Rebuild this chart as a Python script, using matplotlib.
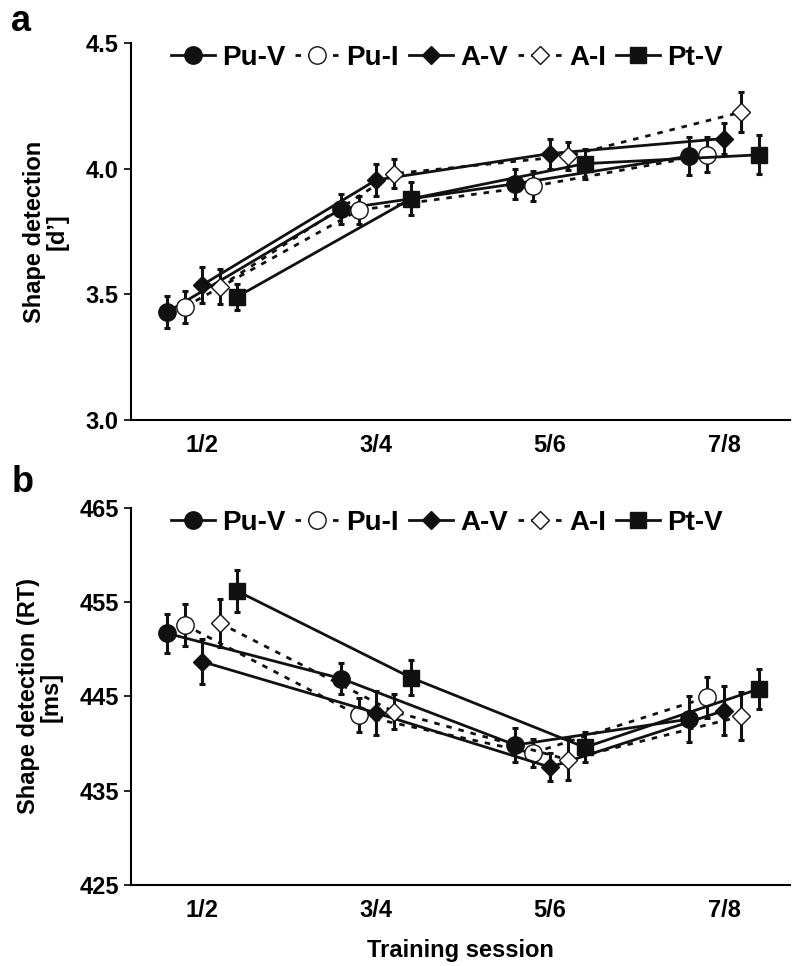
import matplotlib
matplotlib.use("Agg")
import matplotlib.pyplot as plt
import numpy as np

sessions = ["1/2", "3/4", "5/6", "7/8"]
series = ["Pu-V", "Pu-I", "A-V", "A-I", "Pt-V"]

# Panel a: shape detection d'
dprime_mean = {
    "Pu-V": [3.43, 3.84, 3.94, 4.05],
    "Pu-I": [3.45, 3.835, 3.93, 4.055],
    "A-V":  [3.537, 3.955, 4.06, 4.12],
    "A-I":  [3.53, 3.98, 4.05, 4.225],
    "Pt-V": [3.49, 3.88, 4.02, 4.055],
}
dprime_err = {
    "Pu-V": [0.065, 0.06, 0.06, 0.075],
    "Pu-I": [0.065, 0.056, 0.06, 0.07],
    "A-V":  [0.07, 0.064, 0.06, 0.06],
    "A-I":  [0.07, 0.058, 0.055, 0.08],
    "Pt-V": [0.053, 0.066, 0.06, 0.078],
}

# Panel b: shape detection RT (ms)
rt_mean = {
    "Pu-V": [451.7, 446.9, 439.85, 442.6],
    "Pu-I": [452.6, 443.0, 439.0, 444.9],
    "A-V":  [448.7, 443.25, 437.5, 443.5],
    "A-I":  [452.8, 443.4, 438.3, 442.9],
    "Pt-V": [456.2, 447.0, 439.6, 445.8],
}
rt_err = {
    "Pu-V": [2.1, 1.65, 1.77, 2.4],
    "Pu-I": [2.2, 1.8, 1.5, 2.15],
    "A-V":  [2.35, 2.3, 1.45, 2.6],
    "A-I":  [2.5, 1.85, 2.2, 2.55],
    "Pt-V": [2.2, 1.85, 1.6, 2.15],
}

styles = {
    "Pu-V": dict(marker="o", mfc="#111111", ls="-", ms=12.5),
    "Pu-I": dict(marker="o", mfc="white", ls=(0, (2, 2.5)), ms=12.5),
    "A-V":  dict(marker="D", mfc="#111111", ls="-", ms=9.5),
    "A-I":  dict(marker="D", mfc="white", ls=(0, (2, 2.5)), ms=9.5),
    "Pt-V": dict(marker="s", mfc="#111111", ls="-", ms=11),
}
offsets = {"Pu-V": -0.2, "Pu-I": -0.1, "A-V": 0.0, "A-I": 0.1, "Pt-V": 0.2}

FONT = ["Liberation Sans Narrow", "Liberation Sans", "DejaVu Sans"]
plt.rcParams["font.family"] = FONT
plt.rcParams["font.weight"] = "bold"
plt.rcParams["axes.labelweight"] = "bold"

fig = plt.figure(figsize=(8.0, 9.66), dpi=100)
ax_a = fig.add_axes([0.164, 0.5652, 0.8235, 0.3903])
ax_b = fig.add_axes([0.164, 0.0839, 0.8235, 0.3902])

x = np.arange(len(sessions))
col = "#111111"

def draw(ax, means, errs):
    for name in series:
        st = styles[name]
        xs = x + offsets[name]
        ax.errorbar(xs, means[name], yerr=errs[name], fmt="none", ecolor=col,
                    elinewidth=2.2, capsize=2.5, capthick=2.2, zorder=2)
        ax.plot(xs, means[name], color=col, lw=2.0, ls=st["ls"], marker=st["marker"],
                ms=st["ms"], mfc=st["mfc"], mec=col, mew=1.0, label=name, zorder=3)
    ax.set_xlim(-0.408, 3.379)
    ax.set_xticks(x)
    ax.set_xticklabels(sessions)
    ax.tick_params(axis="x", length=0, pad=10, labelsize=17)
    ax.tick_params(axis="y", length=5, width=1.2, pad=4, labelsize=17, direction="out")
    for s in ["top", "right"]:
        ax.spines[s].set_visible(False)
    for s in ["left", "bottom"]:
        ax.spines[s].set_linewidth(1.5)
    for lab in ax.get_xticklabels() + ax.get_yticklabels():
        lab.set_fontweight("bold")
    leg = ax.legend(loc="center left", bbox_to_anchor=(0.06, 0.96), ncol=5, frameon=False,
                    fontsize=20, handlelength=1.6, handletextpad=0.25, columnspacing=0.35,
                    borderaxespad=0, borderpad=0)
    for t in leg.get_texts():
        t.set_fontweight("bold")

draw(ax_a, dprime_mean, dprime_err)
ax_a.set_ylim(3.0, 4.5)
ax_a.set_yticks([3.0, 3.5, 4.0, 4.5])
ax_a.set_yticklabels(["3.0", "3.5", "4.0", "4.5"])
ax_a.set_ylabel("Shape detection\n[d\u2019]", fontsize=17, fontweight="bold", labelpad=12,
                linespacing=1.0)

draw(ax_b, rt_mean, rt_err)
ax_b.set_ylim(425, 465)
ax_b.set_yticks([425, 435, 445, 455, 465])
ax_b.set_ylabel("Shape detection (RT)\n[ms]", fontsize=17, fontweight="bold", labelpad=12,
                linespacing=1.0)
ax_b.set_xlabel("Training session", fontsize=17, fontweight="bold", labelpad=12)

fig.text(0.014, 0.978, "a", fontsize=26, fontweight="bold", va="center", ha="left")
fig.text(0.014, 0.500, "b", fontsize=26, fontweight="bold", va="center", ha="left")

fig.savefig("out.png", dpi=100)
